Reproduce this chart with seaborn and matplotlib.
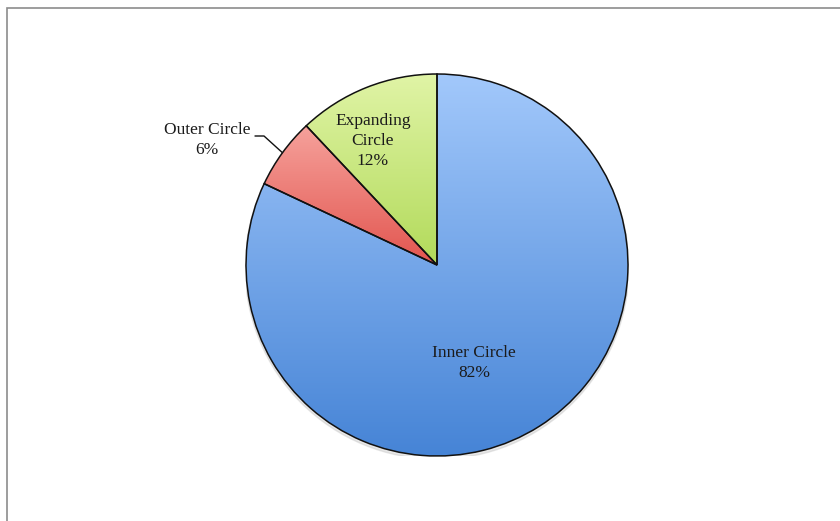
import numpy as np
import matplotlib
matplotlib.use("Agg")
import matplotlib.pyplot as plt
import seaborn as sns
from matplotlib.colors import LinearSegmentedColormap
from matplotlib.patches import Rectangle

# Share of English speakers by Kachru circle
categories = ["Inner Circle", "Outer Circle", "Expanding Circle"]
shares = [82, 6, 12]
label_texts = ["Inner Circle\n82%", "Outer Circle\n6%", "Expanding\nCircle\n12%"]

# light (top) -> dark (bottom) shades for each wedge
shades = [("#A2C8FB", "#4684D6"), ("#F6A29C", "#E2554F"), ("#E0F4A6", "#B2DA5A")]

sns.set_theme(style="white")
plt.rcParams["font.family"] = ["Liberation Serif", "DejaVu Serif"]

fig = plt.figure(figsize=(8.4, 5.21), dpi=100)
fig.patch.set_facecolor("white")

# outer frame of the chart area
fig.add_artist(Rectangle((7 / 840, -0.05), 1.1, 1 - 8 / 521 + 0.05, transform=fig.transFigure,
                         fill=False, edgecolor="#8c8c8c", linewidth=1.2))

# pie axes: centre at (437, 265) px, radius ~190 px
cx, cy, r = 437, 265, 191
ax = fig.add_axes([(cx - r) / 840, 1 - (cy + r) / 521, 2 * r / 840, 2 * r / 521])

wedges, _ = ax.pie(shares, startangle=90, counterclock=False, radius=1.0,
                   colors=[s[1] for s in shades],
                   wedgeprops=dict(edgecolor="#111111", linewidth=1.1))
ax.set_aspect("auto")
ax.axis("off")

# soft shadow under the pie
shadow = plt.Circle((0.0, -0.012), 1.005, color="#bbbbbb", alpha=0.35, zorder=0)
ax.add_patch(shadow)

# vertical gradient fill clipped to each wedge; wedge keeps only its outline on top
grad = np.linspace(0, 1, 256).reshape(-1, 1)
for w, (top, bot) in zip(wedges, shades):
    bb = w.get_path().get_extents(w.get_patch_transform())
    cmap = LinearSegmentedColormap.from_list("g", [top, bot])
    im = ax.imshow(grad, cmap=cmap, aspect="auto",
                   extent=[bb.x0, bb.x1, bb.y0, bb.y1], origin="upper",
                   zorder=2, interpolation="bilinear")
    im.set_clip_path(w)
    w.set_facecolor("none")
    w.set_zorder(3)
ax.set_xlim(-1.0, 1.0)
ax.set_ylim(-1.0, 1.0)

def to_data(px, py):
    return ((px - cx) / r, (cy - py) / r)

fs = 12.5
tc = "#1b1b1b"
x, y = to_data(474, 363)
ax.text(x, y, label_texts[0], ha="center", va="center", fontsize=fs, color=tc,
        linespacing=1.3, zorder=5)
x, y = to_data(373, 141)
ax.text(x, y, label_texts[2], ha="center", va="center", fontsize=fs, color=tc,
        linespacing=1.3, zorder=5)
x, y = to_data(207, 140)
ax.text(x, y, label_texts[1], ha="center", va="center", fontsize=fs, color=tc,
        linespacing=1.3, zorder=5)

# leader line for the small slice
mid = np.deg2rad(90 - (shares[0] + shares[1] / 2) / 100 * 360)
ex, ey = np.cos(mid), np.sin(mid)
p1 = to_data(255, 136)
p2 = to_data(264, 136)
ax.plot([p1[0], p2[0], ex], [p1[1], p2[1], ey], color="#111111", linewidth=1.0,
        zorder=5, clip_on=False)

fig.savefig("out.png", dpi=100, facecolor="white")
